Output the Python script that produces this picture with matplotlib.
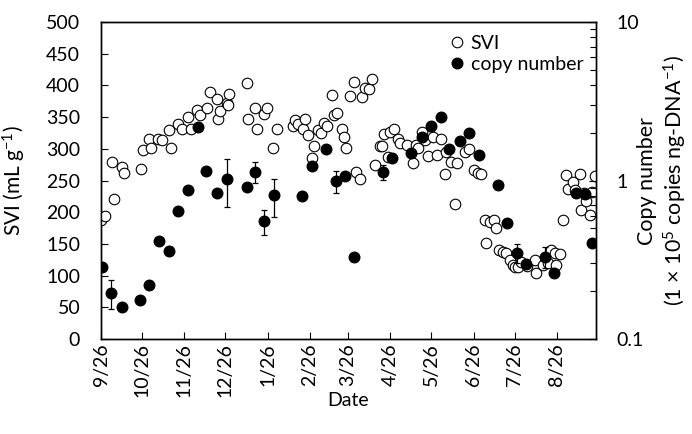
import numpy as np
import matplotlib
matplotlib.use("Agg")
import matplotlib.pyplot as plt
from matplotlib.lines import Line2D

plt.rcParams['font.family'] = ['Lato', 'DejaVu Sans']
plt.rcParams['mathtext.fontset'] = 'custom'
plt.rcParams['mathtext.rm'] = 'Lato'
plt.rcParams['mathtext.it'] = 'Lato:italic'

# days counted from 9/26
tick_days = [0, 30, 61, 91, 122, 153, 181, 212, 242, 273, 303, 334]
tick_labels = ['9/26', '10/26', '11/26', '12/26', '1/26', '2/26', '3/26',
               '4/26', '5/26', '6/26', '7/26', '8/26']

svi_day = [0, 3, 8, 9.5, 15.4, 16.6, 29, 31, 35.4, 36.6, 42, 44.7, 49.7, 51.6,
           56.6, 59.5, 63.8, 65.7, 70.5, 72.8, 77.7, 79.8, 84.7, 85.9, 86.8, 92,
           93.3, 93.8, 106.7, 107.8, 112.7, 114.2, 119.6, 121.3, 126.2, 128.6,
           140.8, 142, 144.5, 147.7, 149.6, 151.8, 154.5, 156, 159, 161.5, 163.5,
           165.4, 168.9, 170.8, 172.8, 176.7, 177.7, 179.6, 182.3, 185, 186.5,
           189.6, 191.3, 193.3, 196.4, 198.6, 200.6, 204.2, 205.9, 207.4, 210.3,
           211.6, 214.5, 217.6, 218.9, 224.5, 228.6, 231, 232.3, 234.8, 237.2,
           239.6, 243.3, 246.5, 249.4, 252.3, 253.1, 256.2, 259.7, 261.1, 266.5,
           269.4, 273.3, 276.2, 278.2, 281.1, 282.4, 284.8, 287.9, 289.7, 291.5,
           294.5, 297, 299.4, 301.8, 303.5, 305.5, 308, 312, 317.7, 319, 323.8,
           327.5, 330, 332.4, 333.6, 336.5, 338.4, 340.4, 342.1, 345.8, 347,
           350.7, 351.9, 354, 355.5, 358.5, 360, 361.6]
svi = [188, 194, 280, 221, 272, 262, 269, 298, 315, 302, 316, 314, 330, 302,
       340, 331, 350, 332, 362, 353, 365, 389, 378, 347, 360, 372,
       370, 386, 404, 347, 365, 331, 355, 364, 301, 331,
       336, 346, 340, 331, 347, 322, 285, 304, 330, 325, 341,
       336, 385, 353, 356, 332, 319, 302, 383, 406, 264,
       252, 382, 396, 395, 411, 274, 304, 304, 323, 287,
       327, 331, 315, 309, 306, 277, 306, 301, 327, 314,
       288, 318, 290, 316, 260, 295, 280, 213, 278, 295,
       299, 266, 262, 261, 188, 151, 185, 188, 175, 140,
       137, 135, 125, 117, 113, 113, 122, 115, 125, 104, 117,
       120, 140, 135, 117, 134, 188, 258, 236, 247, 235,
       260, 203, 230, 217, 196, 232, 257]

copy_day = [0.7, 7.6, 15.4, 28.8, 35.4, 42.7, 49.5, 56.4, 63.7, 70.9, 77, 84.7,
            92, 106.7, 112.8, 119.6, 126.6, 147.6, 154.7, 164.5, 171.8, 178.6,
            185.4, 206.7, 213.3, 227.4, 235.2, 241.6, 248.9, 255.3, 262.8, 269.4,
            276.7, 290.9, 297.7, 305, 311.6, 325.5, 331.6, 347.7, 354.5, 359.4]
copy_num = [0.283, 0.194, 0.158, 0.176, 0.220, 0.417, 0.361, 0.639, 0.871, 2.18,
            1.15, 0.838, 1.018, 0.914, 1.137, 0.555, 0.806, 0.798, 1.235, 1.587,
            0.997, 1.068, 0.331, 1.131, 1.38, 1.484, 1.873, 2.207, 2.505, 1.573,
            1.783, 2.0, 1.442, 0.941, 0.537, 0.350, 0.297, 0.331, 0.26, 0.83,
            0.818, 0.402]
copy_err = [0, 0.04, 0, 0, 0.01, 0, 0.02, 0, 0, 0, 0, 0,
            0.34, 0, 0.17, 0.10, 0.22, 0, 0.05, 0,
            0.16, 0, 0, 0.13, 0, 0, 0, 0.15, 0, 0,
            0, 0, 0, 0, 0, 0.05, 0, 0.05, 0, 0,
            0, 0]

fs = 14
fig = plt.figure(figsize=(6.92, 4.34), dpi=100)
ax = fig.add_axes([0.146, 0.219, 0.715, 0.730])
ax2 = ax.twinx()

ax.plot(svi_day, svi, 'o', ms=7.6, mfc='white', mec='black', mew=0.8, zorder=3)
ax2.errorbar(copy_day, copy_num, yerr=copy_err, fmt='o', ms=7.6, mfc='black',
             mec='black', ecolor='black', elinewidth=0.9, capsize=2.5,
             capthick=0.9, zorder=4)

ax.set_xlim(0, 362.5)
ax.set_ylim(0, 500)
ax.set_yticks(np.arange(0, 501, 50))
ax.set_xticks(tick_days)
ax.set_xticklabels(tick_labels, rotation=90)
ax.tick_params(axis='both', direction='in', length=5, width=0.8, labelsize=fs)
ax.tick_params(axis='x', pad=3)
ax.tick_params(axis='y', pad=15)

ax2.set_yscale('log')
ax2.set_ylim(0.1, 10)
ax2.set_yticks([0.1, 1, 10])
ax2.set_yticklabels(['0.1', '1', '10'])
ax2.tick_params(axis='y', which='major', direction='in', length=5, width=0.8,
                labelsize=fs, pad=15)
ax2.tick_params(axis='y', which='minor', direction='in', length=4, width=0.8)

for a in (ax, ax2):
    for s in a.spines.values():
        s.set_linewidth(1.0)

ax.set_xlabel('Date', fontsize=14)
ax.xaxis.set_label_coords(0.5, -0.168)
ax.set_ylabel('SVI (mL g$^{-1}$)', fontsize=15)
ax.yaxis.set_label_coords(-0.148, 0.5)
ax2.set_ylabel('Copy number\n(1 × 10$^{5}$ copies ng-DNA$^{-1}$)',
               fontsize=15.5, linespacing=1.25)
ax2.yaxis.set_label_coords(1.083, 0.5)

handles = [Line2D([], [], ls='none', marker='o', ms=7.6, mfc='white',
                  mec='black', mew=0.8),
           Line2D([], [], ls='none', marker='o', ms=7.6, mfc='black',
                  mec='black')]
ax.legend(handles, ['SVI', 'copy number'], loc='upper right', frameon=False,
          fontsize=fs, handletextpad=0.1, borderaxespad=0.25,
          labelspacing=0.2, handlelength=1.2)

fig.savefig('out.png', dpi=100)
